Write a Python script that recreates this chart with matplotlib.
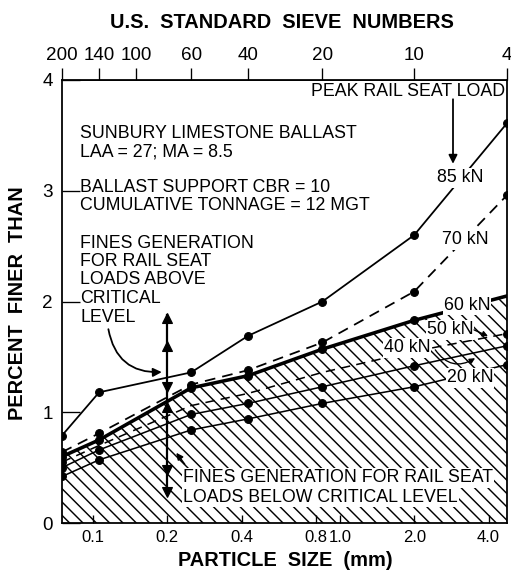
import matplotlib
matplotlib.use('Agg')
import matplotlib.pyplot as plt
from matplotlib.ticker import NullLocator

plt.rcParams['font.family'] = ['Liberation Sans', 'DejaVu Sans']
plt.rcParams['hatch.linewidth'] = 1.3

# ---- data ----
sizes_mm = [0.075, 0.106, 0.25, 0.425, 0.85, 2.0, 4.75]
load_85 = [0.79, 1.18, 1.36, 1.69, 2.00, 2.60, 3.61]
load_70 = [0.64, 0.81, 1.25, 1.38, 1.63, 2.09, 2.96]
load_60 = [0.60, 0.75, 1.22, 1.33, 1.57, 1.83, 2.05]
load_50 = [0.55, 0.70, 1.06, 1.17, 1.36, 1.55, 1.71]
load_40 = [0.50, 0.66, 0.98, 1.08, 1.23, 1.42, 1.60]
load_20 = [0.42, 0.57, 0.84, 0.94, 1.08, 1.23, 1.43]

bottom_ticks = [0.1, 0.2, 0.4, 0.8, 1.0, 2.0, 4.0]
bottom_labels = ['0.1', '0.2', '0.4', '0.8', '1.0', '2.0', '4.0']
sieve_sizes = [0.075, 0.106, 0.150, 0.250, 0.425, 0.850, 2.0, 4.75]
sieve_numbers = ['200', '140', '100', '60', '40', '20', '10', '4']
y_ticks = [0, 1, 2, 3, 4]

DPI = 80
fig = plt.figure(figsize=(511 / DPI, 570 / DPI), dpi=DPI)
ax = fig.add_axes([62 / 511, 1 - 523 / 570, 445 / 511, 443 / 570])
ax.set_xscale('log')
ax.set_xlim(0.075, 4.75)
ax.set_ylim(0, 4)

FS = 16

# hatched region below critical level
ax.fill_between(sizes_mm, 0, load_60, facecolor='white', edgecolor='black',
                hatch='\\\\', linewidth=0, zorder=1)

ms = 7
ax.plot(sizes_mm, load_85, '-', color='black', lw=1.6, marker='o', ms=ms, zorder=4)
ax.plot(sizes_mm, load_70, '--', color='black', lw=1.6, dashes=(6, 4), marker='o', ms=ms, zorder=4)
ax.plot(sizes_mm, load_60, '-', color='black', lw=3.2, marker='o', ms=ms, markevery=[0, 1, 2, 3, 4, 5], zorder=4)
ax.plot(sizes_mm, load_50, '--', color='black', lw=1.4, dashes=(6, 4), marker='o', ms=ms, markevery=[0, 6], zorder=4)
ax.plot(sizes_mm, load_40, '-', color='black', lw=1.4, marker='o', ms=ms, zorder=4)
ax.plot(sizes_mm, load_20, '-', color='black', lw=1.4, marker='o', ms=ms, zorder=4)

# ticks
ax.xaxis.set_minor_locator(NullLocator())
ax.set_xticks(bottom_ticks)
ax.set_xticklabels(bottom_labels)
ax.tick_params(axis='x', direction='in', length=7, width=1.2, labelsize=FS - 1, pad=6)
ax.set_yticks(y_ticks)
ax.tick_params(axis='y', direction='in', length=16, width=1.2, labelsize=FS + 1, pad=8)
for sp in ax.spines.values():
    sp.set_linewidth(1.6)

sec = ax.secondary_xaxis('top')
sec.xaxis.set_minor_locator(NullLocator())
sec.set_xticks(sieve_sizes)
sec.set_xticklabels(sieve_numbers)
sec.tick_params(direction='out', length=11, width=1.2, labelsize=FS + 1, pad=3)

fig.text(282 / 511, 1 - 22 / 570, 'U.S.  STANDARD  SIEVE  NUMBERS', ha='center', va='center',
         fontsize=FS + 2, fontweight='bold')
fig.text(285 / 511, 1 - 560 / 570, 'PARTICLE  SIZE  (mm)', ha='center', va='center',
         fontsize=FS + 2, fontweight='bold')
fig.text(18 / 511, 1 - 303 / 570, 'PERCENT  FINER  THAN', ha='center', va='center',
         rotation=90, fontsize=FS + 2, fontweight='bold')

def px(x, y):
    return ((x - 62) / 445, (523 - y) / 443)

def put(x, y, s, **kw):
    fx, fy = px(x, y)
    ax.text(fx, fy, s, transform=ax.transAxes, fontsize=FS, va='center', **kw)

box = dict(facecolor='white', edgecolor='none', pad=1)

put(80, 133, 'SUNBURY LIMESTONE BALLAST')
put(80, 152, 'LAA = 27; MA = 8.5')
put(80, 188, 'BALLAST SUPPORT CBR = 10')
put(80, 206, 'CUMULATIVE TONNAGE = 12 MGT')
for i, line in enumerate(['FINES GENERATION', 'FOR RAIL SEAT', 'LOADS ABOVE', 'CRITICAL', 'LEVEL']):
    put(80, 243 + i * 18.5, line)
put(505, 92, 'PEAK RAIL SEAT LOAD', ha='right')
put(183, 478, 'FINES GENERATION FOR RAIL SEAT', bbox=box, zorder=5)
put(183, 497, 'LOADS BELOW CRITICAL LEVEL', bbox=box, zorder=5)

put(460, 178, '85 kN', ha='center', bbox=box, zorder=5)
put(465, 240, '70 kN', ha='center', bbox=box, zorder=5)
put(467, 305, '60 kN', ha='center', bbox=box, zorder=5)
put(450, 330, '50 kN', ha='center', bbox=box, zorder=5)
put(407, 348, '40 kN', ha='center', bbox=box, zorder=5)
put(470, 378, '20 kN', ha='center', bbox=box, zorder=5)

arrow_kw = dict(arrowstyle='-|>', color='black', lw=1.6, mutation_scale=16)
# peak rail seat load arrow
ax.annotate('', xy=px(453, 166), xytext=px(453, 97), xycoords='axes fraction',
            textcoords='axes fraction', arrowprops=arrow_kw)
# curved arrow from "LEVEL"
ax.annotate('', xy=px(164, 372), xytext=px(108, 327), xycoords='axes fraction',
            textcoords='axes fraction',
            arrowprops=dict(arrowstyle='-|>', color='black', lw=1.6, mutation_scale=16,
                            connectionstyle='arc3,rad=0.45'))
# small arrow from lower text
ax.annotate('', xy=px(175, 451), xytext=px(186, 466), xycoords='axes fraction',
            textcoords='axes fraction', arrowprops=dict(arrowstyle='-|>', color='black', lw=1.4,
                                                        mutation_scale=12))
# 50 kN and 40 kN leaders
ax.annotate('', xy=px(490, 337), xytext=px(472, 329), xycoords='axes fraction',
            textcoords='axes fraction', arrowprops=dict(arrowstyle='-|>', color='black', lw=1.2,
                                                        mutation_scale=10), zorder=6)
ax.annotate('', xy=px(477, 357), xytext=px(434, 348), xycoords='axes fraction',
            textcoords='axes fraction',
            arrowprops=dict(arrowstyle='-|>', color='black', lw=1.2, mutation_scale=10,
                            connectionstyle='arc3,rad=0.5'), zorder=6)

# vertical double arrow at 0.2 mm
arrow_x = 0.2
ax.plot([arrow_x, arrow_x], [0.27, 1.88], color='black', lw=2, zorder=5)
up_heads = [1.85, 1.60, 1.05]
down_heads = [1.23, 0.48, 0.28]
ax.plot([arrow_x] * len(up_heads), up_heads, '^', color='black', ms=9, zorder=5)
ax.plot([arrow_x] * len(down_heads), down_heads, 'v', color='black', ms=9, zorder=5)

fig.savefig('out.png', dpi=DPI)
